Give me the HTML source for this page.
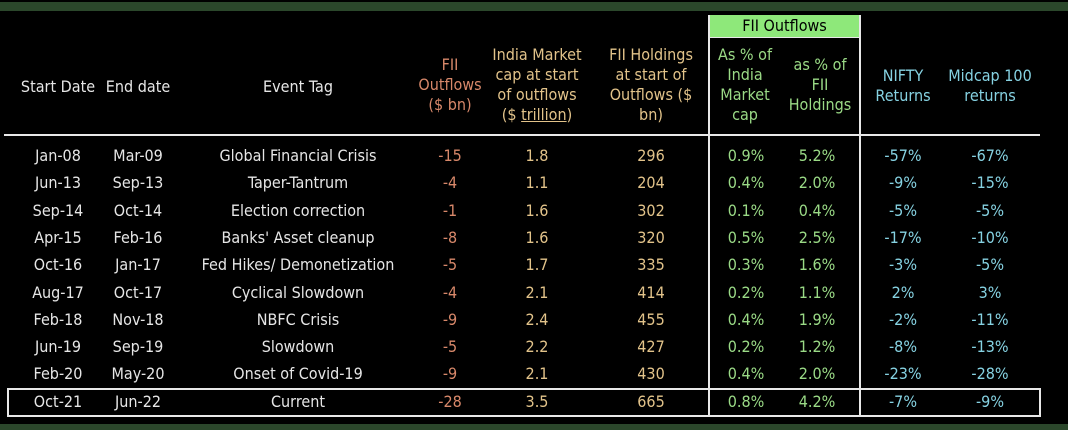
<!DOCTYPE html>
<html><head><meta charset="utf-8"><style>
html,body{margin:0;padding:0;background:#000;}
#wrap{position:relative;width:1068px;height:430px;background:#000;overflow:hidden;font-family:"DejaVu Sans Condensed","DejaVu Sans","Liberation Sans",sans-serif;font-size:16px;}
.t{position:absolute;text-align:center;white-space:nowrap;transform:translateX(-50%);}
.h{line-height:20px;}
.w{color:#e6e6e6}.o{color:#d8886a}.y{color:#e2c38a}.g{color:#9ada86}.c{color:#86d2e2}
.line{position:absolute;background:#e8e8e8;}
</style></head><body>
<div id="wrap">
<div style="position:absolute;left:0;top:2px;width:1068px;height:9px;background:#2b472b"></div>
<div style="position:absolute;left:0;top:424px;width:1068px;height:6px;background:#2b472b"></div>
<div style="position:absolute;left:709px;top:15px;width:151px;height:22px;background:#8ee87a;color:#000;text-align:center;line-height:22px;">FII Outflows</div>
<div class="line" style="left:708px;top:15px;width:2px;height:402px"></div>
<div class="line" style="left:859px;top:15px;width:2px;height:402px"></div>
<div class="line" style="left:709px;top:37px;width:151px;height:1px"></div>
<div class="line" style="left:4px;top:134px;width:1036px;height:2px"></div>
<div class="line" style="left:7px;top:388px;width:1034px;height:2px"></div>
<div class="line" style="left:7px;top:415px;width:1034px;height:2px"></div>
<div class="line" style="left:7px;top:388px;width:2px;height:29px"></div>
<div class="line" style="left:1039px;top:388px;width:2px;height:29px"></div>

<div class="t h w" style="left:58px;top:77px">Start Date</div>
<div class="t h w" style="left:138px;top:77px">End date</div>
<div class="t h w" style="left:298px;top:77px">Event Tag</div>
<div class="t h o" style="left:450px;top:55px">FII<br>Outflows<br>($ bn)</div>
<div class="t h y" style="left:537px;top:45px">India Market<br>cap at start<br>of outflows<br>($ <u>trillion</u>)</div>
<div class="t h y" style="left:651px;top:45px">FII Holdings<br>at start of<br>Outflows ($<br>bn)</div>
<div class="t h g" style="left:745px;top:45px">As % of<br>India<br>Market<br>cap</div>
<div class="t h g" style="left:820px;top:55px">as % of<br>FII<br>Holdings</div>
<div class="t h c" style="left:903px;top:66px">NIFTY<br>Returns</div>
<div class="t h c" style="left:990px;top:66px">Midcap 100<br>returns</div>
<div id="rows"></div>
</div>
<script>
const starts=["Jan-08","Jun-13","Sep-14","Apr-15","Oct-16","Aug-17","Feb-18","Jun-19","Feb-20","Oct-21"];
const ends=["Mar-09","Sep-13","Oct-14","Feb-16","Jan-17","Oct-17","Nov-18","Sep-19","May-20","Jun-22"];
const events=["Global Financial Crisis","Taper-Tantrum","Election correction","Banks' Asset cleanup","Fed Hikes/ Demonetization","Cyclical Slowdown","NBFC Crisis","Slowdown","Onset of Covid-19","Current"];
const outflows=["-15","-4","-1","-8","-5","-4","-9","-5","-9","-28"];
const mcap=["1.8","1.1","1.6","1.6","1.7","2.1","2.4","2.2","2.1","3.5"];
const holdings=["296","204","302","320","335","414","455","427","430","665"];
const pctMcap=["0.9%","0.4%","0.1%","0.5%","0.3%","0.2%","0.4%","0.2%","0.4%","0.8%"];
const pctHold=["5.2%","2.0%","0.4%","2.5%","1.6%","1.1%","1.9%","1.2%","2.0%","4.2%"];
const nifty=["-57%","-9%","-5%","-17%","-3%","2%","-2%","-8%","-23%","-7%"];
const midcap=["-67%","-15%","-5%","-10%","-5%","3%","-11%","-13%","-28%","-9%"];
const cols=[[starts,58,"w","start-date"],[ends,138,"w","end-date"],[events,298,"w","event-tag"],[outflows,450,"o","fii-outflows"],[mcap,537,"y","market-cap"],[holdings,651,"y","fii-holdings"],[pctMcap,746,"g","pct-market-cap"],[pctHold,817,"g","pct-fii-holdings"],[nifty,903,"c","nifty-return"],[midcap,990,"c","midcap-return"]];
const root=document.getElementById('wrap');
for(let i=0;i<starts.length;i++){
  const y=156+i*27.3;
  for(const [arr,x,cls,name] of cols){
    const d=document.createElement('div');
    d.className='t '+cls;
    
    
    d.style.left=x+'px';d.style.top=(y-10)+'px';d.style.lineHeight='20px';
    d.textContent=arr[i];
    root.appendChild(d);
  }
}
</script>
</body></html>
